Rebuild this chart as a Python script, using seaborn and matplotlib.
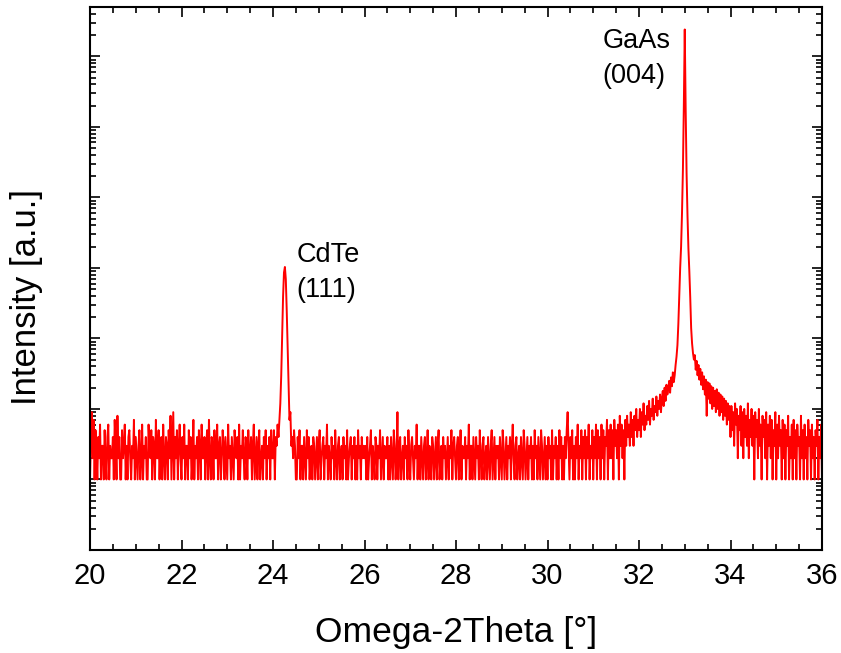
import numpy as np
import pandas as pd
import seaborn as sns
import matplotlib.pyplot as plt
from matplotlib.ticker import LogLocator, NullFormatter, MultipleLocator

# 扫描参数 (Omega-2Theta, 步长 0.02°)
scan_start = 20.0
scan_step = 0.02

# 各 2° 区间的计数
counts_20_22 = [1, 4, 9, 2, 7, 1, 5, 3, 1, 4, 2, 6, 1, 3, 3, 1, 5, 2, 1, 4,
                6, 1, 3, 2, 2, 4, 1, 7, 3, 1, 8, 2, 4, 1, 1, 5, 2, 3, 6, 1,
                3, 1, 4, 5, 2, 1, 3, 2, 7, 1, 4, 2, 1, 3, 5, 1, 2, 6, 1, 3,
                2, 4, 1, 1, 6, 3, 2, 5, 1, 4, 3, 1, 7, 2, 2, 5, 1, 3, 4, 1,
                6, 2, 1, 4, 3, 1, 5, 2, 8, 1, 3, 9, 1, 4, 2, 5, 1, 3, 6, 2]
counts_22_24 = [1, 4, 2, 6, 1, 3, 3, 1, 5, 2, 4, 1, 2, 7, 1, 3, 2, 4, 1, 5,
                3, 1, 6, 2, 2, 4, 1, 3, 5, 1, 7, 2, 1, 4, 3, 1, 5, 2, 2, 6,
                1, 3, 4, 1, 2, 5, 3, 1, 4, 2, 1, 6, 2, 3, 1, 4, 2, 1, 5, 3,
                2, 4, 1, 6, 1, 3, 2, 5, 2, 1, 4, 3, 1, 5, 2, 2, 4, 1, 3, 6,
                1, 2, 4, 1, 3, 5, 1, 2, 3, 1, 4, 2, 5, 1, 3, 2, 4, 1, 5, 2]
counts_24_26 = [2, 5, 1, 4, 3, 6, 4, 7, 12, 30, 115, 390, 860, 1030, 690, 250,
                75, 20, 7, 9, 3, 4, 2, 5, 3, 1,
                1, 4, 2, 5, 1, 3, 3, 1, 4, 2, 1, 5, 2, 4, 1, 2, 3, 1, 4, 3,
                1, 2, 4, 1, 3, 5, 1, 2, 3, 4, 1, 3, 2, 6, 1, 3, 2, 1, 4, 2,
                3, 1, 5, 2, 1, 3, 4, 1, 2, 3, 1, 4, 2, 3, 1, 5, 1, 2, 3, 4,
                1, 3, 2, 4, 1, 3, 1, 5, 2, 3, 1, 4, 2, 3]
counts_26_28 = [2, 3, 1, 4, 1, 2, 3, 5, 1, 3, 2, 1, 4, 3, 1, 3, 2, 5, 1, 2,
                4, 1, 3, 2, 2, 4, 1, 3, 1, 4, 2, 1, 5, 3, 1, 2, 9, 1, 3, 4,
                1, 2, 3, 1, 4, 2, 3, 1, 5, 2, 1, 3, 4, 2, 1, 3, 2, 6, 1, 3,
                3, 1, 4, 2, 1, 3, 4, 1, 2, 5, 1, 3, 2, 1, 4, 3, 1, 2, 4, 1,
                3, 5, 1, 2, 3, 1, 4, 2, 3, 1, 2, 4, 1, 3, 2, 5, 1, 3, 4, 2]
counts_28_30 = [1, 3, 4, 1, 2, 5, 1, 3, 2, 2, 4, 1, 3, 2, 6, 1, 3, 3, 1, 4,
                2, 1, 4, 2, 3, 1, 5, 2, 1, 3, 4, 1, 2, 3, 1, 4, 2, 1, 3, 5,
                1, 2, 4, 1, 3, 2, 3, 1, 4, 2, 1, 5, 3, 1, 2, 4, 1, 3, 2, 4,
                1, 3, 6, 2, 1, 3, 4, 1, 2, 3, 1, 4, 2, 1, 5, 3, 1, 2, 4, 1,
                3, 2, 4, 1, 3, 1, 5, 2, 3, 1, 4, 2, 1, 5, 3, 1, 2, 4, 1, 3]
counts_30_32 = [1, 4, 2, 3, 1, 5, 1, 3, 2, 4, 1, 3, 1, 5, 2, 4, 1, 3, 1, 4,
                2, 5, 9, 3, 1, 4, 2, 5, 1, 3, 1, 4, 2, 6, 1, 3, 2, 5, 1, 4,
                2, 5, 1, 4, 2, 6, 1, 3, 2, 5, 1, 4, 2, 6, 1, 5, 2, 4, 1, 6,
                2, 5, 1, 4, 3, 7, 1, 5, 2, 6, 2, 5, 1, 7, 3, 5, 2, 6, 1, 8,
                3, 6, 2, 5, 1, 7, 3, 8, 4, 6, 3, 9, 4, 7, 3, 8, 5, 10, 4, 7]
counts_32_34 = [5, 10, 4, 9, 6, 12, 5, 8, 6, 11, 7, 13, 6, 10, 8, 14, 7, 11, 9, 15,
                8, 13, 10, 16, 9,
                14, 18, 11, 20, 13, 22, 16, 19, 25, 17, 28, 21, 33, 24, 30,
                42, 55, 80, 160, 400, 1000, 2000, 6000, 25000, 200000,
                2400000,
                180000, 22000, 5500, 1900, 900, 380, 140, 85, 62, 50,
                58, 36, 48, 30, 42, 26, 37, 22, 33, 19,
                29, 16, 26, 8, 24, 14, 23, 12, 21, 10,
                20, 11, 18, 9, 19, 10, 17, 8, 16, 9,
                15, 7, 14, 8, 13, 6, 12, 7, 11]
counts_34_36 = [4, 11, 5, 9, 3, 12, 6, 10, 2, 8, 5, 11, 3, 9, 2, 10, 4, 8, 3, 12,
                2, 7, 4, 10, 3, 8, 1, 9, 4, 7, 2, 10, 3, 6, 1, 8, 4, 7, 2, 9,
                1, 6, 3, 8, 2, 7, 1, 5, 3, 9,
                1, 6, 2, 8, 3, 5, 1, 7, 2, 6, 1, 5, 3, 8, 1, 4, 2, 6, 1, 7,
                2, 5, 1, 6, 3, 4, 1, 8, 2, 5, 1, 6, 2, 4, 1, 7, 3, 5, 1, 6,
                2, 4, 1, 5, 3, 7, 1, 4, 2, 6, 1]

x_ticks = [20, 22, 24, 26, 28, 30, 32, 34, 36]

intensity = (counts_20_22 + counts_22_24 + counts_24_26 + counts_26_28
             + counts_28_30 + counts_30_32 + counts_32_34 + counts_34_36)
two_theta = scan_start + scan_step * np.arange(len(intensity))
df = pd.DataFrame({'two_theta': two_theta, 'intensity': intensity})

sns.set_style('ticks')
plt.rcParams['font.family'] = ['Liberation Sans', 'DejaVu Sans']
plt.rcParams['text.color'] = 'black'
plt.rcParams['axes.labelcolor'] = 'black'

fig = plt.figure(figsize=(8.41, 6.53), dpi=100)
ax = fig.add_axes([90 / 841, 103 / 653, 732 / 841, 543 / 653])

sns.lineplot(data=df, x='two_theta', y='intensity', color='#ff0000',
             linewidth=1.4, estimator=None, sort=False, ax=ax)

ax.set_yscale('log')
ax.set_xlim(20, 36)
ax.set_ylim(0.1, 5e6)

# 刻度设置
ax.set_xticks(x_ticks)
ax.xaxis.set_minor_locator(MultipleLocator(0.5))
ax.yaxis.set_major_locator(LogLocator(base=10, numticks=20))
ax.yaxis.set_minor_locator(LogLocator(base=10, subs=[2, 3, 4, 5, 6, 7, 8, 9], numticks=200))
ax.yaxis.set_major_formatter(NullFormatter())
ax.yaxis.set_minor_formatter(NullFormatter())
ax.tick_params(which='both', direction='in', top=True, right=True, width=1.2,
               colors='black', labelcolor='black')
ax.tick_params(which='major', length=7.5)
ax.tick_params(which='minor', length=4)
ax.tick_params(axis='x', which='major', labelsize=21, pad=9)
for s in ax.spines.values():
    s.set_linewidth(1.5)
    s.set_color('black')

ax.set_xlabel('Omega-2Theta [°]', fontsize=25.5)
ax.set_ylabel('Intensity [a.u.]', fontsize=25)
ax.xaxis.set_label_coords(0.5, -0.122)
ax.yaxis.set_label_coords(-0.064, 0.466)

# 峰标注
ax.text(24.52, 2350, 'CdTe\n(111)', fontsize=19.5, ha='left', va='top', linespacing=1.45)
ax.text(31.21, 2.55e6, 'GaAs\n(004)', fontsize=19.5, ha='left', va='top', linespacing=1.45)

plt.savefig('out.png', dpi=100)
plt.close()
